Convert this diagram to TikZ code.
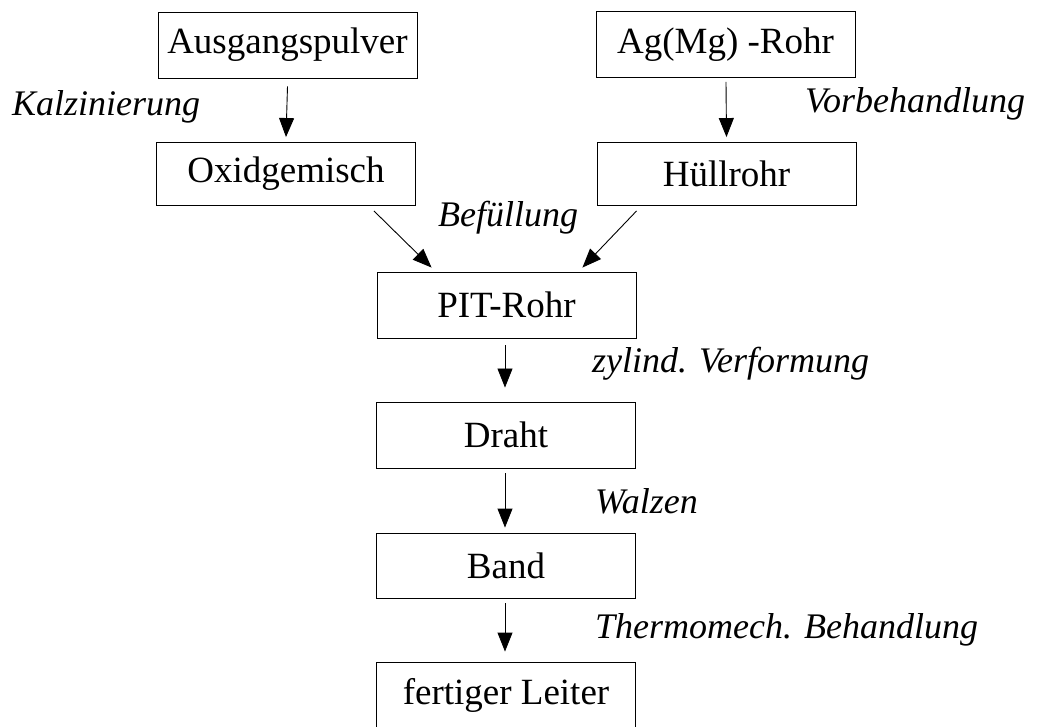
\documentclass[tikz,border=0pt]{standalone}
\usepackage{fontspec}
\setmainfont{Liberation Serif}
\usetikzlibrary{arrows.meta,calc}
\begin{document}
\begin{tikzpicture}[x=1pt,y=-1pt,
  box/.style={draw,line width=0.9pt,minimum width=259pt,minimum height=66pt,inner sep=0pt,font=\fontsize{37}{44}\selectfont},
  lbl/.style={anchor=base west,inner sep=0pt,font=\fontsize{36}{43}\selectfont\itshape},
  arr/.style={line width=0.9pt,-{Triangle[length=19pt,width=15pt]}}]
\clip (0,0) rectangle (1037,727);
\fill[white] (0,0) rectangle (1037,727);
\node[box] (ausg) at (287.5,45) {Ausgangspulver};
\node[box] (agmg) at (725.5,44.5) {Ag(Mg) -Rohr};
\node[box,minimum height=63pt] (oxid) at (286,174) {Oxidgemisch};
\node[box,minimum height=63pt] (huell) at (726.5,174) {Hüllrohr};
\node[box] (pit) at (506.5,305) {PIT-Rohr};
\node[box] (draht) at (506,435) {Draht};
\node[box,minimum height=65pt] (band) at (506,565.5) {Band};
\node[box] (leiter) at (506,695) {fertiger Leiter};
\draw[arr] ($(ausg.south)+(0,8)$) -- ($(oxid.north)+(0,-5)$);
\draw[arr] ($(agmg.south)+(0.5,4)$) -- ($(huell.north)+(0,-5)$);
\draw[arr] ($(oxid.south east)+(-42,5)$) -- ($(pit.north west)+(55,-4)$);
\draw[arr] ($(huell.south west)+(40,5)$) -- ($(pit.north east)+(-54,-4)$);
\draw[arr] ($(pit.south)+(-1.5,7)$) -- ($(draht.north)+(-1,-14)$);
\draw[arr] ($(draht.south)+(-1,5)$) -- ($(band.north)+(-1,-5)$);
\draw[arr] ($(band.south)+(-1,5)$) -- ($(leiter.north)+(-1,-10)$);
\node[lbl] (kalz) at (12,116) {Kalzinierung};
\node[lbl] (vorb) at (805,113) {Vorbehandlung};
\node[lbl] (bef) at (438,227) {Befüllung};
\node[lbl] (zyl) at (592,373) {zylind. Verformung};
\node[lbl] (walz) at (595,513) {Walzen};
\node[lbl] (thermo) at (595,638) {Thermomech. Behandlung};
\end{tikzpicture}
\end{document}
